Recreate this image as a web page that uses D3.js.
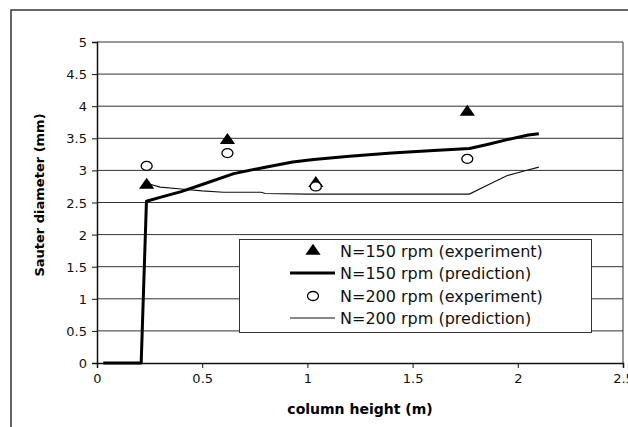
<!DOCTYPE html>
<html>
<head>
<meta charset="utf-8">
<script src="https://cdn.jsdelivr.net/npm/d3@7"></script>
<style>
  body { margin: 0; background: #fff; }
  svg { display: block; font-family: "DejaVu Sans", sans-serif; }
</style>
</head>
<body>
<svg width="628" height="427"></svg>
<script>
// data
const yTicks = [0, 0.5, 1, 1.5, 2, 2.5, 3, 3.5, 4, 4.5, 5];
const xTicks = [0, 0.5, 1, 1.5, 2, 2.5];

const exp150 = [[0.236, 2.77], [0.62, 3.47], [1.04, 2.80], [1.76, 3.91]];
const exp200 = [[0.236, 3.07], [0.62, 3.27], [1.04, 2.75], [1.76, 3.18]];

const pred150 = [[0.03, 0], [0.21, 0], [0.235, 2.52], [0.3, 2.58], [0.4, 2.67], [0.5, 2.78],
  [0.65, 2.95], [0.8, 3.05], [0.93, 3.13], [1.03, 3.17], [1.2, 3.22], [1.4, 3.27],
  [1.6, 3.31], [1.77, 3.34], [1.85, 3.40], [1.95, 3.48], [2.05, 3.55], [2.1, 3.57]];
const pred200 = [[0.235, 2.80], [0.3, 2.74], [0.4, 2.71], [0.5, 2.68], [0.6, 2.66],
  [0.78, 2.66], [0.8, 2.64], [1.0, 2.63], [1.3, 2.63], [1.5, 2.63], [1.77, 2.63],
  [1.85, 2.76], [1.95, 2.92], [2.03, 2.99], [2.1, 3.05]];

const legendLabels = ["N=150 rpm (experiment)", "N=150 rpm (prediction)",
  "N=200 rpm (experiment)", "N=200 rpm (prediction)"];

const svg = d3.select("svg");
const margin = {left: 97, top: 42, right: 623, bottom: 363};

const x = d3.scaleLinear().domain([0, 2.5]).range([margin.left, margin.right]);
const y = d3.scaleLinear().domain([0, 5]).range([margin.bottom, margin.top]);

// outer frame
svg.append("path")
    .attr("d", "M11,432 V10 H633")
    .attr("fill", "none")
    .attr("stroke", "#333")
    .attr("stroke-width", 1.5);

// grid
svg.append("g").selectAll("line")
    .data(yTicks.slice(1))
    .join("line")
    .attr("x1", x(0)).attr("x2", x(2.5))
    .attr("y1", d => y(d)).attr("y2", d => y(d))
    .attr("stroke", "#333").attr("stroke-width", 1);

svg.append("line")
    .attr("x1", x(2.5)).attr("x2", x(2.5))
    .attr("y1", y(0)).attr("y2", y(5))
    .attr("stroke", "#333").attr("stroke-width", 1);

// axes
const xAxis = svg.append("g")
    .attr("transform", `translate(0,${y(0)})`)
    .call(d3.axisBottom(x).tickValues(xTicks).tickFormat(d3.format("")).tickSize(5).tickPadding(6));
const yAxis = svg.append("g")
    .attr("transform", `translate(${x(0)},0)`)
    .call(d3.axisLeft(y).tickValues(yTicks).tickFormat(d3.format("")).tickSize(5).tickPadding(5));

[xAxis, yAxis].forEach(a => {
  a.select(".domain").attr("stroke", "#111").attr("stroke-width", 1.5);
  a.selectAll(".tick line").attr("stroke", "#111");
  a.selectAll("text").attr("font-size", 13).attr("font-family", "DejaVu Sans").attr("fill", "#111");
});
yAxis.selectAll("text").attr("dy", "0.35em");

// axis titles
svg.append("text")
    .attr("x", 360).attr("y", 414)
    .attr("text-anchor", "middle")
    .attr("font-size", 14).attr("font-weight", "bold")
    .text("column height (m)");

svg.append("text")
    .attr("transform", "translate(44,195) rotate(-90)")
    .attr("text-anchor", "middle")
    .attr("font-size", 13).attr("font-weight", "bold")
    .text("Sauter diameter (mm)");

// lines
const line = d3.line().x(d => x(d[0])).y(d => y(d[1]));

svg.append("path").datum(pred200)
    .attr("d", line).attr("fill", "none")
    .attr("stroke", "#111").attr("stroke-width", 1.2);
svg.append("path").datum(pred150)
    .attr("d", line).attr("fill", "none")
    .attr("stroke", "#000").attr("stroke-width", 3)
    .attr("stroke-linejoin", "round");

// markers
const tri = d3.symbol().type(d3.symbolTriangle).size(70);

svg.append("g").selectAll("path")
    .data(exp150)
    .join("path")
    .attr("d", tri)
    .attr("transform", d => `translate(${x(d[0])},${y(d[1])}) scale(1.2,1)`)
    .attr("fill", "#000");

svg.append("g").selectAll("ellipse")
    .data(exp200)
    .join("ellipse")
    .attr("cx", d => x(d[0])).attr("cy", d => y(d[1]))
    .attr("rx", 5.5).attr("ry", 4.5)
    .attr("fill", "#fff").attr("stroke", "#000").attr("stroke-width", 1.3);

// legend
const lg = svg.append("g");
lg.append("rect")
    .attr("x", 239.5).attr("y", 239.5).attr("width", 352).attr("height", 93)
    .attr("fill", "#fff").attr("stroke", "#333").attr("stroke-width", 1);

const rowY = [251, 273, 296, 318];
lg.selectAll("text")
    .data(legendLabels)
    .join("text")
    .attr("x", 340).attr("y", (d, i) => rowY[i])
    .attr("dy", "0.35em")
    .attr("font-size", 16).attr("fill", "#111")
    .text(d => d);

lg.append("path").attr("d", tri)
    .attr("transform", `translate(313,${rowY[0]}) scale(1.2,1)`).attr("fill", "#000");
lg.append("line").attr("x1", 290).attr("x2", 335).attr("y1", rowY[1]).attr("y2", rowY[1])
    .attr("stroke", "#000").attr("stroke-width", 3);
lg.append("ellipse").attr("cx", 313).attr("cy", rowY[2]).attr("rx", 5.5).attr("ry", 4.5)
    .attr("fill", "#fff").attr("stroke", "#000").attr("stroke-width", 1.3);
lg.append("line").attr("x1", 290).attr("x2", 335).attr("y1", rowY[3]).attr("y2", rowY[3])
    .attr("stroke", "#111").attr("stroke-width", 1.2);
</script>
</body>
</html>
